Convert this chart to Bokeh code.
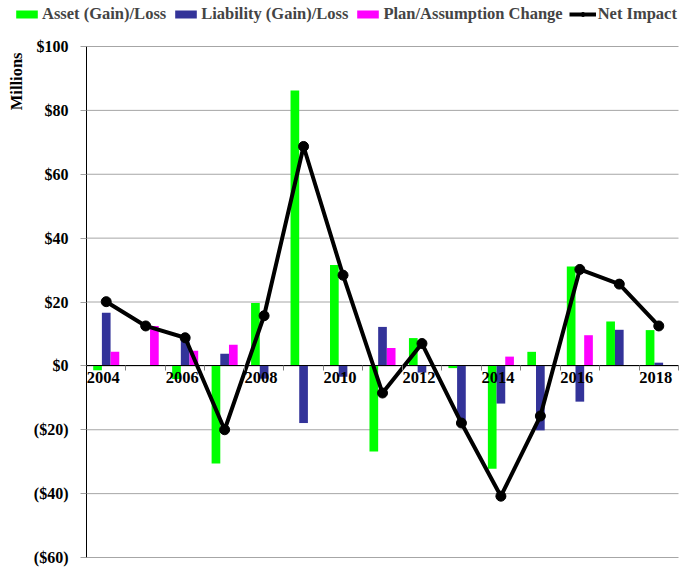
import numpy as np
from bokeh.plotting import figure
from bokeh.models import (ColumnDataSource, FixedTicker, Legend, LegendItem, Label,
                          LinearAxis, Range1d)
from bokeh.transform import dodge
from bokeh.core.properties import value
from bokeh.embed import file_html
from bokeh.resources import INLINE

years = [2004, 2005, 2006, 2007, 2008, 2009, 2010, 2011, 2012, 2013, 2014, 2015, 2016, 2017, 2018]
asset = [-1.4, 0.0, -4.1, -30.6, 19.7, 86.2, 31.6, -26.8, 8.7, -0.7, -32.2, 4.4, 31.1, 13.9, 11.2]
liability = [16.6, 0.0, 8.8, 3.8, -4.0, -17.9, -3.4, 12.2, -2.1, -17.2, -11.8, -20.2, -11.2, 11.3, 1.0]
plan = [4.4, 12.5, 4.7, 6.6, 0.0, 0.0, 0.0, 5.6, 0.0, 0.0, 2.9, 0.0, 9.6, 0.0, 0.0]
net = [20.1, 12.5, 8.8, -20.0, 15.7, 68.7, 28.4, -8.5, 7.0, -17.9, -40.8, -15.7, 30.2, 25.6, 12.5]
y_ticks = [-60, -40, -20, 0, 20, 40, 60, 80, 100]
y_labels = ["($60)", "($40)", "($20)", "$0", "$20", "$40", "$60", "$80", "$100"]
x_label_years = [2004, 2006, 2008, 2010, 2012, 2014, 2016, 2018]

FONT = "Liberation Serif"
W, H = 689, 568
FL, FR, FT, FB = 86, 678, 46, 557   # plotting area in pixels

x0, x1 = years[0] - 0.5, years[-1] + 0.5
y0, y1 = min(y_ticks), max(y_ticks)
pxx = (FR - FL) / (x1 - x0)
pxy = (FB - FT) / (y1 - y0)

src = ColumnDataSource(dict(year=years, asset=asset, liability=liability, plan=plan, net=net,
                            zero=[0] * len(years)))

p = figure(width=W, height=H, output_backend="svg", toolbar_location=None,
           x_axis_type=None, y_axis_type=None,
           x_range=Range1d(x0 - FL / pxx, x1 + (W - FR) / pxx),
           y_range=Range1d(y0 - (H - FB) / pxy, y1 + FT / pxy),
           min_border_left=0, min_border_right=0, min_border_top=0, min_border_bottom=0)
p.outline_line_color = None
p.background_fill_color = "white"
p.xgrid.visible = False
p.ygrid.visible = False

# horizontal gridlines
gsrc = ColumnDataSource(dict(y=y_ticks, xs=[x0] * len(y_ticks), xe=[x1] * len(y_ticks)))
p.segment(x0="xs", y0="y", x1="xe", y1="y", source=gsrc, line_color="#a6a6a6", line_width=1)

bw = 0.22
r_a = p.vbar(x=dodge("year", -bw, range=p.x_range), top="asset", bottom="zero", width=bw,
             source=src, fill_color="#00FF00", line_color=None)
r_l = p.vbar(x=dodge("year", 0, range=p.x_range), top="liability", bottom="zero", width=bw,
             source=src, fill_color="#333399", line_color=None)
r_p = p.vbar(x=dodge("year", bw, range=p.x_range), top="plan", bottom="zero", width=bw,
             source=src, fill_color="#FF00FF", line_color=None)
r_n = p.line(x="year", y="net", source=src, line_color="black", line_width=4)
r_m = p.scatter(x="year", y="net", source=src, size=10, fill_color="black", line_color="black")

# y axis at left edge of plotting area
yax = LinearAxis(fixed_location=x0, bounds=(y0, y1),
                 ticker=FixedTicker(ticks=y_ticks, minor_ticks=[]))
yax.major_label_overrides = {t: l for t, l in zip(y_ticks, y_labels)}
yax.major_label_text_font = FONT
yax.major_label_text_font_style = "bold"
yax.major_label_text_font_size = "16px"
yax.major_label_text_color = "black"
yax.major_tick_out = 6
yax.major_tick_in = 0
yax.major_tick_line_color = "#a0a0a0"
yax.axis_line_color = "black"
yax.major_label_standoff = 12
p.add_layout(yax, "left")

# x axis crossing at zero
xax = LinearAxis(fixed_location=0, bounds=(x0, x1),
                 ticker=FixedTicker(ticks=x_label_years,
                                    minor_ticks=[y - 0.5 for y in years] + [x1]))
xax.major_tick_out = 0
xax.major_tick_in = 0
xax.minor_tick_out = 5
xax.minor_tick_in = 0
xax.minor_tick_line_color = "#808080"
xax.axis_line_color = "black"
xax.major_label_text_alpha = 0
p.add_layout(xax, "below")

lsrc = ColumnDataSource(dict(year=x_label_years, zero=[0] * len(x_label_years),
                             txt=[str(y) for y in x_label_years]))
p.text(x="year", y="zero", text="txt", source=lsrc, text_font=value(FONT),
       text_font_style="bold", text_font_size="16.5px", text_align="center",
       text_baseline="top", y_offset=6, x_offset=-3, text_color="black")

# Millions label
p.add_layout(Label(x=x0, y=y1, x_offset=-70, y_offset=-6, text="Millions", angle=np.pi / 2,
                   text_align="right", text_baseline="middle", text_font=FONT,
                   text_font_style="bold", text_font_size="16.5px", text_color="black"))

legend = Legend(items=[
    LegendItem(label="Asset (Gain)/Loss", renderers=[r_a]),
    LegendItem(label="Liability (Gain)/Loss", renderers=[r_l]),
    LegendItem(label="Plan/Assumption Change", renderers=[r_p]),
    LegendItem(label="Net Impact", renderers=[r_n, r_m]),
], orientation="horizontal", location=(13, H - 24))
legend.label_text_font = FONT
legend.label_text_font_style = "bold"
legend.label_text_font_size = "16.5px"
legend.label_standoff = 2
legend.glyph_width = 27
legend.glyph_height = 10
legend.spacing = 6
legend.padding = 0
legend.margin = 0
legend.border_line_color = None
legend.background_fill_alpha = 0
p.add_layout(legend, "center")

open("out.html", "w").write(file_html(p, INLINE))
